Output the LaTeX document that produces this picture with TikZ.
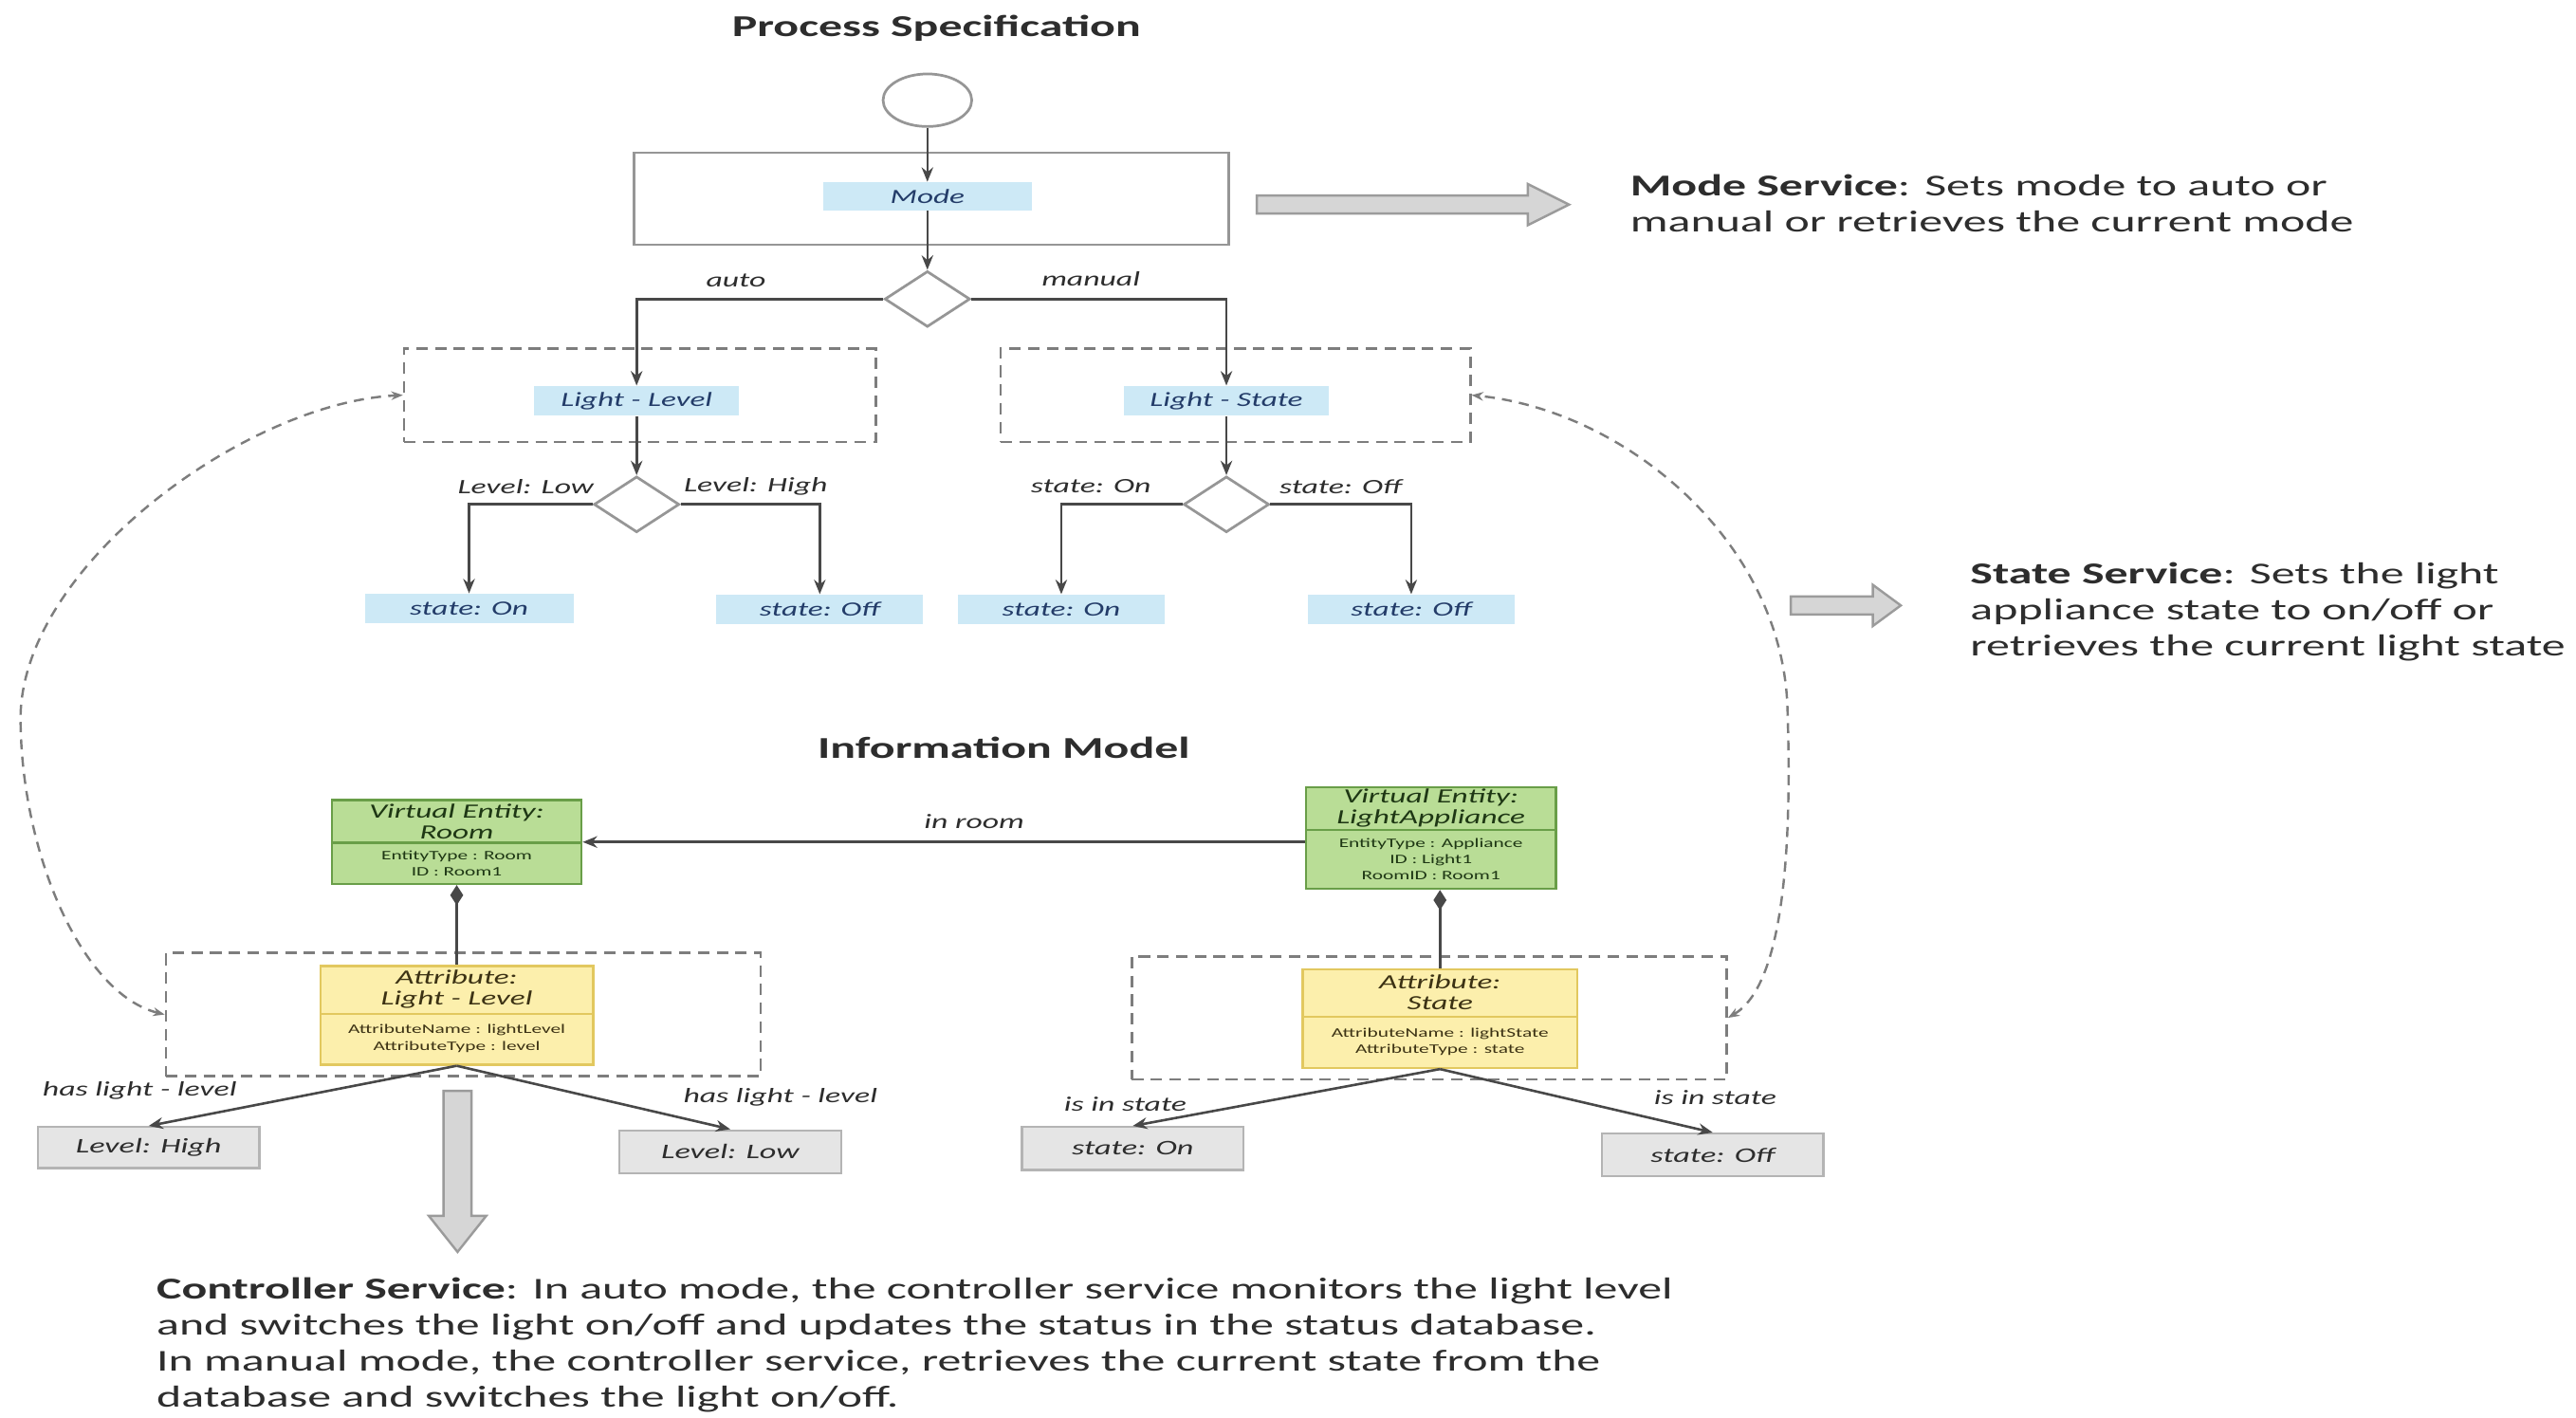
\documentclass[tikz,border=0pt]{standalone}
\usepackage{fontspec}
\setmainfont{Carlito}[FakeStretch=1.56]
\usetikzlibrary{arrows.meta,shapes.geometric,fit}
\definecolor{lnc}{RGB}{72,72,72}
\definecolor{dashc}{RGB}{125,125,125}
\definecolor{bluef}{RGB}{205,233,246}
\definecolor{bluet}{RGB}{35,60,105}
\definecolor{greenf}{RGB}{185,221,150}
\definecolor{greenb}{RGB}{105,158,72}
\definecolor{greent}{RGB}{30,55,20}
\definecolor{yellowf}{RGB}{252,239,172}
\definecolor{yellowb}{RGB}{226,200,95}
\definecolor{yellowt}{RGB}{60,50,20}
\definecolor{grayf}{RGB}{229,229,229}
\definecolor{grayb}{RGB}{180,180,180}
\definecolor{txt}{RGB}{45,45,45}
\definecolor{blkf}{RGB}{214,214,214}
\definecolor{blkb}{RGB}{155,155,155}
\definecolor{boxb}{RGB}{150,150,150}
\begin{document}
\begin{tikzpicture}[x=0.02cm,y=-0.02cm,
  sz/.style args={#1/#2}{minimum width=#1*0.02cm,minimum height=#2*0.02cm},
  ln/.style={draw=lnc,line width=0.85pt},
  arr/.style={ln,-{Stealth[length=5pt,width=4pt]}},
  dashbox/.style={draw=dashc,line width=0.9pt,dash pattern=on 4pt off 2.5pt,inner sep=0},
  bluebox/.style={fill=bluef,inner sep=0,text=bluet,font=\fontsize{7}{8}\selectfont\itshape},
  lab/.style={inner sep=0,text=txt,font=\fontsize{7.1}{8}\selectfont\itshape},
  graybox/.style={fill=grayf,draw=grayb,line width=0.8pt,inner sep=0,text=txt,font=\fontsize{7.2}{8}\selectfont\itshape},
  greenbox/.style={fill=greenf,draw=greenb,line width=0.8pt,inner sep=0},
  yellowbox/.style={fill=yellowf,draw=yellowb,line width=0.8pt,inner sep=0},
  umlt/.style={inner sep=0,align=center,font=\fontsize{7}{7.3}\selectfont\itshape},
  umla/.style={inner sep=0,align=center,font=\fontsize{4.5}{5.7}\selectfont},
  svc/.style={inner sep=0,align=left,text=txt,font=\fontsize{10.5}{12.5}\selectfont},
  ttl/.style={inner sep=0,text=txt,font=\fontsize{10.5}{12.5}\selectfont\bfseries},
  blk/.style={fill=blkf,draw=blkb,line width=0.8pt},
  decision/.style={diamond,draw=boxb,line width=0.9pt,fill=white,inner sep=0,minimum width=1.04cm,minimum height=0.68cm},
  curve/.style={draw=dashc,line width=0.8pt,dash pattern=on 3.5pt off 2.5pt,{Stealth[length=4pt,width=3pt]}-{Stealth[length=4pt,width=3pt]}}
]
\useasboundingbox[fill=white] (0,0) rectangle (1568,863);

% ---------- Process specification ----------
\node[ttl] (pstitle) at (570,17) {Process Specification};
\node[ellipse,draw=boxb,line width=0.9pt,minimum width=1.08cm,minimum height=0.64cm,inner sep=0] (start) at (564.5,61) {};
\node[draw=boxb,line width=0.9pt,inner sep=0,fit={(386,93)(748,149)}] (modebox) {};
\node[bluebox,sz=127/17] (mode) at (564.5,119.5) {Mode};
\node[decision] (d1) at (564.5,182) {};
\draw[arr] (start) -- (mode);
\draw[arr] (mode) -- (d1);

\node[dashbox,fit={(246,212)(533,269)}] (dl) {};
\node[dashbox,fit={(609,212)(895,269)}] (dr) {};
\node[bluebox,sz=125/18] (ll) at (387.5,244) {Light - Level};
\node[bluebox,sz=125/18] (ls) at (746.5,244) {Light - State};
\draw[arr] (d1.west) -| (ll);
\draw[arr] (d1.east) -| (ls);
\node[lab] (lauto) at (448,171) {auto};
\node[lab] (lman) at (664,170) {manual};

\node[decision] (d2) at (387.5,307) {};
\node[decision] (d3) at (746.5,307) {};
\draw[arr] (ll) -- (d2);
\draw[arr] (ls) -- (d3);
\node[bluebox,sz=127/18] (s1) at (285.5,370.5) {state: On};
\node[bluebox,sz=126/18] (s2) at (499,371) {state: Off};
\node[bluebox,sz=126/18] (s3) at (646,371) {state: On};
\node[bluebox,sz=126/18] (s4) at (859,371) {state: Off};
\draw[arr] (d2.west) -| (s1);
\draw[arr] (d2.east) -| (s2);
\draw[arr] (d3.west) -| (s3);
\draw[arr] (d3.east) -| (s4);
\node[lab] (llow) at (320,296) {Level: Low};
\node[lab] (lhigh) at (460,296) {Level: High};
\node[lab] (lon) at (664,296) {state: On};
\node[lab] (loff) at (816,296) {state: Off};

% ---------- service arrows and texts ----------
\draw[blk] (765,119) -- (930,119) -- (930,112) -- (955,124.5) -- (930,137) -- (930,130) -- (765,130) -- cycle;
\node[svc,anchor=north west] (modesvc) at (992,106) {\textbf{Mode Service}: Sets mode to auto or\\manual or retrieves the current mode};
\draw[blk] (1090,363) -- (1140,363) -- (1140,356) -- (1157,368.5) -- (1140,381) -- (1140,374) -- (1090,374) -- cycle;
\node[svc,anchor=north west] (statesvc) at (1199,342) {\textbf{State Service}: Sets the light\\appliance state to on/off or\\retrieves the current light state};

% ---------- Information model ----------
\node[ttl] (imtitle) at (611,455) {Information Model};

\node[greenbox,fit={(202,487)(354,538)}] (room) {};
\draw[greenb,line width=0.8pt] (202,513) -- (354,513);
\node[umlt,text=greent] (roomt) at (278,500) {Virtual Entity:\\Room};
\node[umla,text=greent] (rooma) at (278,525.5) {EntityType : Room\\ID : Room1};

\node[greenbox,fit={(795,479)(947,541)}] (la) {};
\draw[greenb,line width=0.8pt] (795,505) -- (947,505);
\node[umlt,text=greent] (lat) at (871,492) {Virtual Entity:\\LightAppliance};
\node[umla,text=greent] (laa) at (871,523) {EntityType : Appliance\\ID : Light1\\RoomID : Room1};

\draw[arr] (la.west |- room.east) -- (room.east);
\node[lab] (inroom) at (593,500) {in room};

\node[dashbox,fit={(101,580)(463,655)}] (dl2) {};
\node[dashbox,fit={(689,582)(1051,657)}] (dr2) {};

\node[yellowbox,fit={(195,588)(361,648)}] (attr1) {};
\draw[yellowb,line width=0.8pt] (195,617) -- (361,617);
\node[umlt,text=yellowt] (a1t) at (278,602) {Attribute:\\Light - Level};
\node[umla,text=yellowt] (a1a) at (278,632) {AttributeName : lightLevel\\AttributeType : level};

\node[yellowbox,fit={(793,590)(960,650)}] (attr2) {};
\draw[yellowb,line width=0.8pt] (793,619) -- (960,619);
\node[umlt,text=yellowt] (a2t) at (876.5,604) {Attribute:\\State};
\node[umla,text=yellowt] (a2a) at (876.5,634) {AttributeName : lightState\\AttributeType : state};

\draw[ln,{Diamond[length=7pt,width=4.5pt]}-] (room.south) -- (attr1.north);
\draw[ln,{Diamond[length=7pt,width=4.5pt]}-] (attr2.north |- la.south) -- (attr2.north);

\node[graybox,sz=135/25] (lh) at (90.5,698.5) {Level: High};
\node[graybox,sz=135/26] (lw) at (444.5,701) {Level: Low};
\node[graybox,sz=135/26] (son) at (689.5,699) {state: On};
\node[graybox,sz=135/26] (soff) at (1042.5,703) {state: Off};
\draw[arr] (attr1.south) -- (lh.north);
\draw[arr] (attr1.south) -- (lw.north);
\draw[arr] (attr2.south) -- (son.north);
\draw[arr] (attr2.south) -- (soff.north);
\node[lab] (hl1) at (85,664) {has light - level};
\node[lab] (hl2) at (475,668) {has light - level};
\node[lab] (is1) at (685,672) {is in state};
\node[lab] (is2) at (1044,668) {is in state};

% ---------- dashed links between the two halves ----------
\draw[curve] (dl2.west) .. controls (50,605) and (13,520) .. (12.5,438) .. controls (12,345) and (150,245) .. (dl.west);
\draw[curve] (dr2.east) .. controls (1085,600) and (1091,520) .. (1088,431) .. controls (1085,330) and (990,250) .. (dr.east);

% ---------- controller ----------
\draw[blk] (270,664) -- (287,664) -- (287,740) -- (296,740) -- (278.5,762) -- (261,740) -- (270,740) -- cycle;
\node[svc,anchor=north west] (ctrl) at (95,777.5) {\textbf{Controller Service}: In auto mode, the controller service monitors the light level\\and switches the light on/off and updates the status in the status database.\\In manual mode, the controller service, retrieves the current state from the\\database and switches the light on/off.};
\end{tikzpicture}
\end{document}
